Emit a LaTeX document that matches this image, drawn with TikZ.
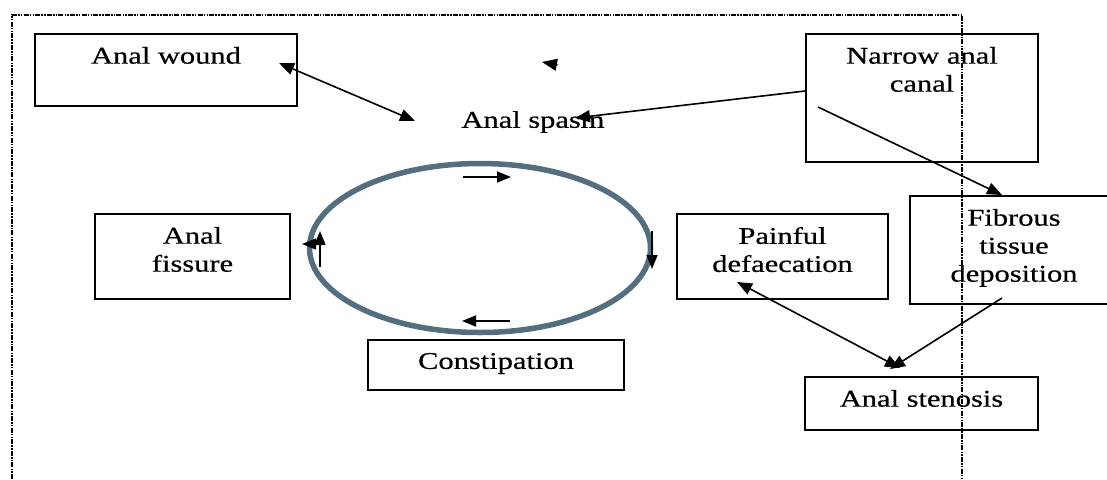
\documentclass[tikz,border=0pt]{standalone}
\usepackage{fontspec}
\setmainfont[FakeStretch=1.27,FakeBold=0.6]{Liberation Serif}
\usetikzlibrary{arrows.meta,shapes.geometric}
\definecolor{cyclecol}{RGB}{84,110,128}
\newcommand{\bxt}[3]{\parbox[c][#2pt][t]{#1pt}{\centering\vspace*{13pt}#3\par}}
\tikzset{
  box/.style={draw, line width=2pt, inner sep=0pt, anchor=north west},
  tip/.style={-{Triangle[length=15pt,width=12pt]}},
  conn/.style={line width=1.6pt, tip},
  conn2/.style={line width=1.6pt, {Triangle[length=15pt,width=12pt]}-{Triangle[length=15pt,width=12pt]}},
  smallarrow/.style={line width=1.6pt, -{Triangle[length=14pt,width=11pt]}},
  frameline/.style={line width=1.6pt, dash pattern=on 5pt off 1.2pt on 1.5pt off 1.2pt on 1.5pt off 1.2pt},
  every node/.style={font=\fontsize{24pt}{28pt}\selectfont}
}
\begin{document}
\begin{tikzpicture}[x=1pt,y=-1pt]
\useasboundingbox (0,0) rectangle (1107,479);
% frame
\draw[frameline] (12,479) -- (12,15) -- (962,15) -- (962,479);
% boxes
\node[box] (aw) at (34,33) {\bxt{262}{72}{Anal wound}};
\node[box] (nac) at (805,33) {\bxt{232}{128}{Narrow anal\\canal}};
\node[box] (af) at (94,213) {\bxt{195}{85}{Anal\\fissure}};
\node[box] (pd) at (676,213) {\bxt{211}{85}{Painful\\defaecation}};
\node[box] (ftd) at (909,195) {\bxt{208}{108}{Fibrous\\tissue\\deposition}};
\node[box] (as) at (804,376) {\bxt{233}{53}{Anal stenosis}};
\node[box] (con) at (367,339) {\bxt{256}{50}{Constipation}};
\node[inner sep=0pt] (sp) at (533,122) {Anal spasm};
% cycle
\node[draw=cyclecol, ellipse, line width=5.5pt, minimum width=341pt, minimum height=169pt, inner sep=0pt] (cycle) at (480,248) {};
% connector end points
\coordinate (awE) at (279,63);
\coordinate (spW) at (415,121);
\coordinate (nacW) at (805,91);
\coordinate (spE) at (575,118);
\coordinate (nacIn) at (818,107);
\coordinate (ftdN) at (1002,195);
\coordinate (ftdS) at (1002,298);
\coordinate (asN1) at (890,369);
\coordinate (pdS) at (737,282);
\coordinate (asN2) at (900,368);
\draw[conn2] (awE) -- (spW);
\draw[conn] (nacW) -- (spE);
\draw[conn] (nacIn) -- (ftdN);
\draw[conn] (ftdS) -- (asN1);
\draw[conn2] (pdS) -- (asN2);
% cycle arrows
\coordinate (t1) at (463,177); \coordinate (t2) at (511,177);
\coordinate (r1) at (652,231); \coordinate (r2) at (652,269);
\coordinate (b1) at (510,321); \coordinate (b2) at (462,321);
\coordinate (l1) at (320,267); \coordinate (l2) at (320,231);
\coordinate (l3) at (318,244); \coordinate (l4) at (302,244);
\coordinate (s1) at (558,65); \coordinate (s2) at (542,62);
\draw[smallarrow] (t1) -- (t2);
\draw[smallarrow] (r1) -- (r2);
\draw[smallarrow] (b1) -- (b2);
\draw[smallarrow] (l1) -- (l2);
\draw[smallarrow] (l3) -- (l4);
\draw[line width=1pt, tip] (s1) -- (s2);
\end{tikzpicture}
\end{document}
